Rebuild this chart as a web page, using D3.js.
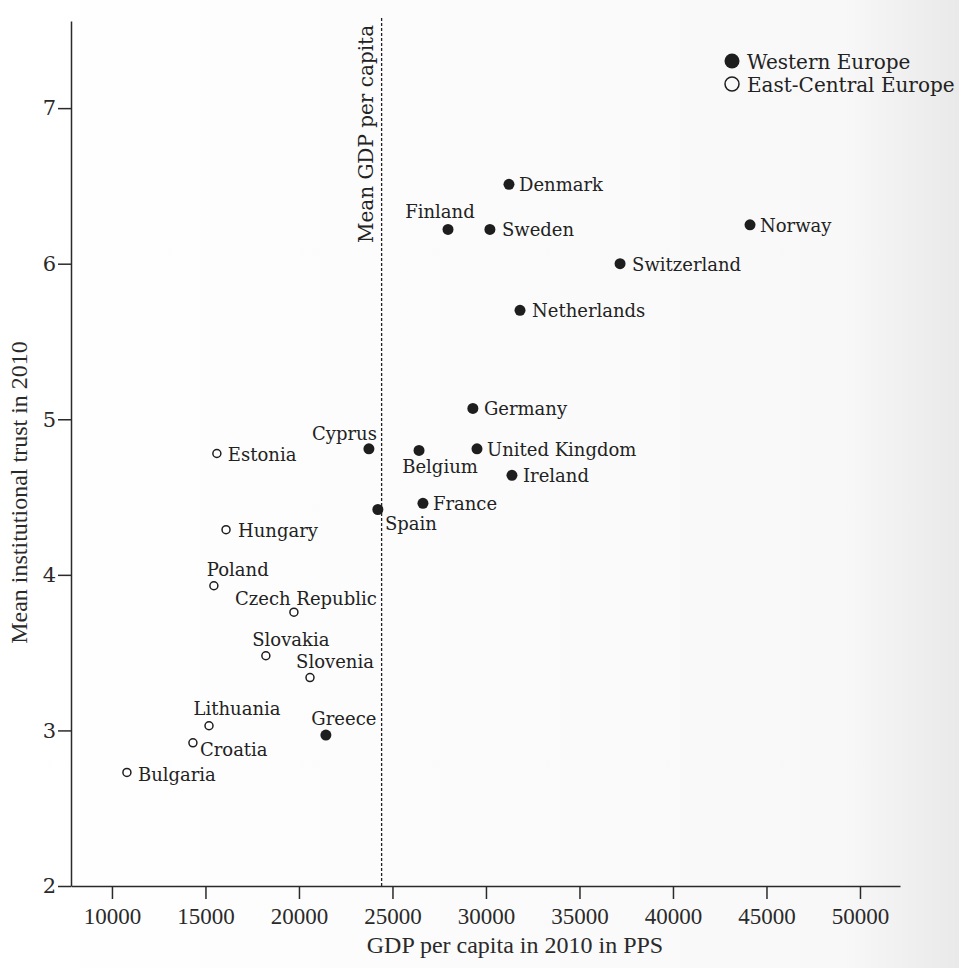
<!DOCTYPE html>
<html>
<head>
<meta charset="utf-8">
<script src="https://cdn.jsdelivr.net/npm/d3@7"></script>
<style>
	body { margin: 0; background: #ffffff; }
	#chart-area { width: 959px; height: 968px; }
	.axis path, .axis line { stroke: #2a2a2a; stroke-width: 1.5; }
	.axis text { fill: #2a2a2a; }
	.x-axis text { font-family: "Liberation Serif", serif; font-size: 23px; }
	.y-axis text { font-family: "DejaVu Serif", serif; font-size: 21px; }
	.axisTitle { font-family: "Liberation Serif", serif; font-size: 24px; fill: #2a2a2a; }
	.pointLabel { font-family: "DejaVu Serif", serif; font-size: 18px; fill: #222; }
	.legendText { font-family: "DejaVu Serif", serif; font-size: 20px; fill: #222; }
</style>
</head>
<body>
<div id="chart-area"></div>
<script>

// --- data ---
var westCountries = ["Denmark", "Finland", "Sweden", "Norway", "Switzerland", "Netherlands",
	"Germany", "Cyprus", "Belgium", "United Kingdom", "Ireland", "France", "Spain", "Greece"];
var westGdp   = [31230, 27970, 30210, 44120, 37170, 31820, 29300, 23740, 26420, 29520, 31390, 26630, 24220, 21440];
var westTrust = [6.51, 6.22, 6.22, 6.25, 6.00, 5.70, 5.07, 4.81, 4.80, 4.81, 4.64, 4.46, 4.42, 2.97];

var eastCountries = ["Estonia", "Hungary", "Poland", "Czech Republic", "Slovakia", "Slovenia",
	"Lithuania", "Croatia", "Bulgaria"];
var eastGdp   = [15610, 16100, 15450, 19730, 18230, 20590, 15190, 14330, 10800];
var eastTrust = [4.78, 4.29, 3.93, 3.76, 3.48, 3.34, 3.03, 2.92, 2.73];

var meanGdp = 24420;

var xTicks = [10000, 15000, 20000, 25000, 30000, 35000, 40000, 45000, 50000];
var yTicks = [2, 3, 4, 5, 6, 7];

var legendLabels = ["Western Europe", "East-Central Europe"];

// where each country name sits relative to its dot
var labelPlace = {
	"Denmark": [10, 7, "start"], "Finland": [-8, -11, "middle"], "Sweden": [12, 7, "start"],
	"Norway": [10, 7, "start"], "Switzerland": [12, 7, "start"], "Netherlands": [12, 7, "start"],
	"Germany": [11, 7, "start"], "Cyprus": [8, -9, "end"], "Belgium": [21, 23, "middle"],
	"United Kingdom": [10, 7, "start"], "Ireland": [11, 7, "start"], "France": [10, 7, "start"],
	"Spain": [7, 20, "start"], "Greece": [18, -10, "middle"],
	"Estonia": [11, 7, "start"], "Hungary": [12, 7, "start"], "Poland": [-7, -10, "start"],
	"Czech Republic": [12, -7, "middle"], "Slovakia": [25, -10, "middle"],
	"Slovenia": [25, -10, "middle"], "Lithuania": [28, -11, "middle"],
	"Croatia": [7, 13, "start"], "Bulgaria": [11, 9, "start"]
};


ScatterVis = function(_parentElement){
	this.parentElement = _parentElement;

	var temp = [];
	westCountries.forEach(function(c, i){
		temp.push({"country": c, "gdp": westGdp[i], "trust": westTrust[i], "group": "west"});
	});
	eastCountries.forEach(function(c, i){
		temp.push({"country": c, "gdp": eastGdp[i], "trust": eastTrust[i], "group": "east"});
	});
	this.data = temp;

	this.initVis();
}

ScatterVis.prototype.initVis = function(){
	var vis = this;

	vis.margin = { top: 21, right: 59, bottom: 82, left: 71 };
	vis.width = 959 - vis.margin.left - vis.margin.right;
	vis.height = 968 - vis.margin.top - vis.margin.bottom;

	var root = d3.select("#" + vis.parentElement).append("svg")
		.attr("width", 959)
		.attr("height", 968);

	// scanned page: near white, greyer only at the right edge
	var grad = root.append("defs").append("linearGradient")
		.attr("id", "paper");
	grad.append("stop").attr("offset", "0%").attr("stop-color", "#ffffff");
	grad.append("stop").attr("offset", "88%").attr("stop-color", "#f8f8f8");
	grad.append("stop").attr("offset", "100%").attr("stop-color", "#e9e9e9");
	root.append("rect")
		.attr("width", 959).attr("height", 968)
		.attr("fill", "url(#paper)");

	vis.svg = root.append("g")
		.attr("transform", "translate(" + vis.margin.left + "," + vis.margin.top + ")");

	vis.x = d3.scaleLinear()
		.domain([7810, 52140])
		.range([0, vis.width]);

	vis.y = d3.scaleLinear()
		.domain([2, 7.56])
		.range([vis.height, 0]);

	vis.xAxis = d3.axisBottom(vis.x)
		.tickValues(xTicks)
		.tickFormat(d3.format("d"))
		.tickSize(13)
		.tickSizeOuter(0)
		.tickPadding(9);

	vis.yAxis = d3.axisLeft(vis.y)
		.tickValues(yTicks)
		.tickFormat(d3.format("d"))
		.tickSize(13)
		.tickSizeOuter(0)
		.tickPadding(2);

	vis.svg.append("g")
		.attr("class", "x-axis axis")
		.attr("transform", "translate(0," + vis.height + ")");

	vis.svg.append("g")
		.attr("class", "y-axis axis");

	// Axis titles
	vis.svg.append("text")
		.attr("class", "axisTitle")
		.attr("x", 444)
		.attr("y", vis.height + 67)
		.attr("text-anchor", "middle")
		.text("GDP per capita in 2010 in PPS");

	vis.svg.append("text")
		.attr("class", "axisTitle")
		.attr("transform", "translate(-44," + (vis.height / 2 + 39) + ") rotate(-90)")
		.attr("text-anchor", "middle")
		.text("Mean institutional trust in 2010");

	// Legend
	vis.legend = root.append("g")
		.attr("transform", "translate(732,61)");

	legendLabels.forEach(function(lab, i){
		vis.legend.append("circle")
			.attr("cx", 0)
			.attr("cy", i * 23)
			.attr("r", 7.5 - i * 0.5)
			.attr("fill", i == 0 ? "#1e1e1e" : "none")
			.attr("stroke", "#1e1e1e")
			.attr("stroke-width", i == 0 ? 0 : 1.5);
		vis.legend.append("text")
			.attr("class", "legendText")
			.attr("x", 15)
			.attr("y", i * 23 + 7.5)
			.text(lab);
	});

	vis.wrangleData();
}

ScatterVis.prototype.wrangleData = function(){
	var vis = this;

	vis.displayData = vis.data;

	vis.updateVis();
}

ScatterVis.prototype.updateVis = function(){
	var vis = this;

	vis.svg.select(".x-axis").call(vis.xAxis);
	vis.svg.select(".y-axis").call(vis.yAxis);

	// mean GDP reference line
	vis.svg.append("line")
		.attr("x1", vis.x(meanGdp))
		.attr("x2", vis.x(meanGdp))
		.attr("y1", -3)
		.attr("y2", vis.height)
		.attr("stroke", "#222")
		.attr("stroke-width", 1.3)
		.attr("stroke-dasharray", "3,2");

	vis.svg.append("text")
		.attr("class", "legendText")
		.attr("transform", "translate(" + (vis.x(meanGdp) - 9) + ",113) rotate(-90)")
		.attr("text-anchor", "middle")
		.text("Mean GDP per capita");

	vis.svg.selectAll(".dot")
		.data(vis.displayData)
		.enter().append("circle")
		.attr("class", "dot")
		.attr("cx", function(d){ return vis.x(d.gdp); })
		.attr("cy", function(d){ return vis.y(d.trust); })
		.attr("r", function(d){ return d.group == "west" ? 5.5 : 4; })
		.attr("fill", function(d){ return d.group == "west" ? "#1e1e1e" : "#ffffff"; })
		.attr("stroke", "#1e1e1e")
		.attr("stroke-width", function(d){ return d.group == "west" ? 0 : 1.5; });

	vis.svg.selectAll(".pointLabel")
		.data(vis.displayData)
		.enter().append("text")
		.attr("class", "pointLabel")
		.attr("x", function(d){ return vis.x(d.gdp) + labelPlace[d.country][0]; })
		.attr("y", function(d){ return vis.y(d.trust) + labelPlace[d.country][1]; })
		.attr("text-anchor", function(d){ return labelPlace[d.country][2]; })
		.text(function(d){ return d.country; });
}

var scatterVis = new ScatterVis("chart-area");

</script>
</body>
</html>
